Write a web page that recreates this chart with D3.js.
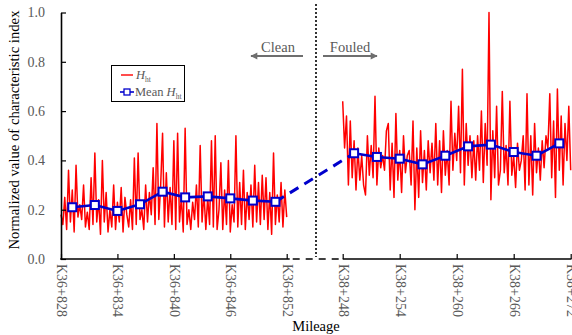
<!DOCTYPE html>
<html>
<head>
<meta charset="utf-8">
<script src="https://cdn.jsdelivr.net/npm/d3@7"></script>
<style>
  html, body { margin: 0; padding: 0; background: #fff; }
  svg { display: block; }
</style>
</head>
<body>
<svg id="chart" width="572" height="335"></svg>
<script>
// ---------- data ----------
const leftTickValues = [828, 834, 840, 846, 852];
const leftTickLabels = ["K36+828", "K36+834", "K36+840", "K36+846", "K36+852"];
const rightTickValues = [248, 254, 260, 266, 272];
const rightTickLabels = ["K38+248", "K38+254", "K38+260", "K38+266", "K38+272"];
const yTickValues = [0, 0.2, 0.4, 0.6, 0.8, 1.0];

// H_ht, clean section (K36+828 .. K36+852, step 0.2 m)
const leftStart = 828, step = 0.2;
const hLeft = [
  0.18, 0.14, 0.25, 0.12, 0.36, 0.15, 0.28, 0.11, 0.38, 0.17, 0.22, 0.16,
  0.30, 0.13, 0.19, 0.12, 0.33, 0.14, 0.43, 0.15, 0.24, 0.10, 0.40, 0.15,
  0.27, 0.11, 0.20, 0.13, 0.30, 0.12, 0.23, 0.15, 0.29, 0.11, 0.25, 0.18,
  0.13, 0.24, 0.12, 0.41, 0.14, 0.43, 0.16, 0.20, 0.12, 0.30, 0.15, 0.27,
  0.18, 0.37, 0.14, 0.55, 0.16, 0.30, 0.51, 0.13, 0.35, 0.15, 0.29, 0.14,
  0.48, 0.12, 0.51, 0.15, 0.25, 0.11, 0.53, 0.14, 0.20, 0.12, 0.23, 0.16,
  0.30, 0.13, 0.46, 0.15, 0.27, 0.12, 0.25, 0.14, 0.48, 0.13, 0.50, 0.12,
  0.20, 0.39, 0.12, 0.28, 0.14, 0.40, 0.11, 0.22, 0.15, 0.50, 0.13, 0.31,
  0.14, 0.36, 0.12, 0.27, 0.16, 0.30, 0.13, 0.38, 0.15, 0.31, 0.14, 0.34,
  0.16, 0.33, 0.12, 0.27, 0.10, 0.43, 0.14, 0.26, 0.15, 0.31, 0.13, 0.28, 0.17
];
// H_ht, fouled section (K38+248 .. K38+272, step 0.2 m)
const rightStart = 248;
const hRight = [
  0.64, 0.45, 0.58, 0.30, 0.56, 0.33, 0.48, 0.28, 0.45, 0.32, 0.42, 0.30,
  0.26, 0.50, 0.34, 0.46, 0.33, 0.66, 0.30, 0.45, 0.37, 0.42, 0.36, 0.52,
  0.55, 0.28, 0.47, 0.25, 0.59, 0.32, 0.44, 0.27, 0.50, 0.35, 0.42, 0.44,
  0.30, 0.56, 0.20, 0.45, 0.25, 0.52, 0.31, 0.44, 0.28, 0.48, 0.35, 0.47,
  0.32, 0.55, 0.30, 0.48, 0.27, 0.52, 0.34, 0.44, 0.30, 0.64, 0.36, 0.51,
  0.40, 0.62, 0.35, 0.77, 0.30, 0.55, 0.38, 0.50, 0.33, 0.48, 0.32, 0.50,
  0.36, 0.60, 0.31, 0.55, 0.38, 1.00, 0.24, 0.52, 0.33, 0.62, 0.30, 0.36,
  0.68, 0.35, 0.46, 0.30, 0.64, 0.34, 0.42, 0.29, 0.47, 0.36, 0.40, 0.50,
  0.28, 0.67, 0.30, 0.50, 0.26, 0.55, 0.35, 0.45, 0.32, 0.48, 0.37, 0.50,
  0.45, 0.67, 0.33, 0.56, 0.25, 0.69, 0.36, 0.58, 0.30, 0.55, 0.40, 0.62, 0.36
];

// Mean H_ht (2.4 m windows)
const meanLeftX = [829.2, 831.6, 834.0, 836.4, 838.8, 841.2, 843.6, 846.0, 848.4, 850.8];
const meanLeft  = [0.210, 0.219, 0.195, 0.222, 0.273, 0.250, 0.254, 0.246, 0.237, 0.232];
const meanRightX = [249.2, 251.6, 254.0, 256.4, 258.8, 261.2, 263.6, 266.0, 268.4, 270.8];
const meanRight  = [0.429, 0.414, 0.407, 0.384, 0.419, 0.457, 0.464, 0.434, 0.419, 0.469];

// ---------- drawing ----------
const svg = d3.select("#chart");
const serif = "'Liberation Serif', 'Times New Roman', serif";
const gray = "#595959";
const red = "#ff0000";
const blue = "#0000cc";

const axisY = 259;
const y = d3.scaleLinear().domain([0, 1]).range([axisY, 12.5]);
const xL = d3.scaleLinear().domain([828, 852]).range([61, 286.7]);
const xR = d3.scaleLinear().domain([248, 272]).range([342.7, 570.7]);

// red raw series
const lineL = d3.line().x((d, i) => xL(leftStart + i * step)).y(d => y(d));
const lineR = d3.line().x((d, i) => xR(rightStart + i * step)).y(d => y(d));
svg.append("path").attr("d", lineL(hLeft)).attr("fill", "none")
  .attr("stroke", red).attr("stroke-width", 1.5).attr("stroke-linejoin", "round");
svg.append("path").attr("d", lineR(hRight)).attr("fill", "none")
  .attr("stroke", red).attr("stroke-width", 1.5).attr("stroke-linejoin", "round");

// mean lines
const mL = meanLeftX.map((d, i) => [xL(d), y(meanLeft[i])]);
const mR = meanRightX.map((d, i) => [xR(d), y(meanRight[i])]);
const ml = d3.line();
svg.append("path").attr("d", ml(mL)).attr("fill", "none").attr("stroke", blue).attr("stroke-width", 2.6);
svg.append("path").attr("d", ml(mR)).attr("fill", "none").attr("stroke", blue).attr("stroke-width", 2.6);
// dashed connector
svg.append("path").attr("d", ml([mL[mL.length - 1], mR[0]])).attr("fill", "none")
  .attr("stroke", blue).attr("stroke-width", 3).attr("stroke-dasharray", "10,7");

// markers
const ms = 8;
svg.append("g").selectAll("rect").data(mL.concat(mR)).join("rect")
  .attr("x", d => d[0] - ms / 2).attr("y", d => d[1] - ms / 2)
  .attr("width", ms).attr("height", ms)
  .attr("fill", "#fff").attr("stroke", blue).attr("stroke-width", 2);

// vertical dotted divider
svg.append("line").attr("x1", 316).attr("x2", 316).attr("y1", 4).attr("y2", 257)
  .attr("stroke", "#000").attr("stroke-width", 1.6).attr("stroke-dasharray", "2,2");

// y axis
const yAxis = d3.axisLeft(y).tickValues(yTickValues).tickSize(-5).tickSizeOuter(0)
  .tickPadding(16).tickFormat(d3.format(".1f"));
const gy = svg.append("g").attr("transform", "translate(61,0)").call(yAxis);
gy.select(".domain").attr("stroke", "#000").attr("stroke-width", 1.6);
gy.selectAll(".tick line").attr("stroke", "#000").attr("stroke-width", 1.2);
gy.selectAll(".tick text").attr("fill", gray).style("font-family", serif).style("font-size", "14px");

// x axes (broken)
function xAxisPart(scale, vals, labels) {
  const ax = d3.axisBottom(scale).tickValues(vals).tickSize(-5).tickSizeOuter(0)
    .tickFormat((d, i) => labels[i]);
  const g = svg.append("g").attr("transform", `translate(0,${axisY})`).call(ax);
  g.select(".domain").remove();
  g.selectAll(".tick line").attr("stroke", "#000").attr("stroke-width", 1.2);
  g.selectAll(".tick text")
    .attr("transform", "rotate(90)")
    .attr("x", 5).attr("y", 0).attr("dy", "0.33em")
    .style("text-anchor", "start")
    .attr("fill", gray).style("font-family", serif).style("font-size", "14px");
  return g;
}
xAxisPart(xL, leftTickValues, leftTickLabels);
xAxisPart(xR, rightTickValues, rightTickLabels);
svg.append("line").attr("x1", 60.2).attr("x2", xL(852) + 3).attr("y1", axisY).attr("y2", axisY)
  .attr("stroke", "#000").attr("stroke-width", 1.6);
svg.append("line").attr("x1", xR(248)).attr("x2", xR(272) + 0.8).attr("y1", axisY).attr("y2", axisY)
  .attr("stroke", "#000").attr("stroke-width", 1.6);
svg.append("line").attr("x1", xL(852) + 6).attr("x2", xR(248) - 2).attr("y1", axisY).attr("y2", axisY)
  .attr("stroke", "#000").attr("stroke-width", 1.6).attr("stroke-dasharray", "7,6");

// axis titles
svg.append("text").attr("x", 316).attr("y", 331).attr("text-anchor", "middle")
  .style("font-family", serif).style("font-size", "14.5px").attr("fill", "#000").text("Mileage");
svg.append("text").attr("transform", "translate(19,130) rotate(-90)").attr("text-anchor", "middle")
  .style("font-family", serif).style("font-size", "14.7px").attr("fill", "#000")
  .text("Normalized value of characteristic index");

// Clean / Fouled annotations
const defs = svg.append("defs");
defs.append("marker").attr("id", "ah").attr("viewBox", "0 0 10 10").attr("refX", 9).attr("refY", 5)
  .attr("markerWidth", 4).attr("markerHeight", 3.2).attr("orient", "auto-start-reverse")
  .append("path").attr("d", "M0,0 L10,5 L0,10 Z").attr("fill", "#6e6e6e");
svg.append("line").attr("x1", 303).attr("x2", 251).attr("y1", 56).attr("y2", 56)
  .attr("stroke", "#6e6e6e").attr("stroke-width", 2.2).attr("marker-end", "url(#ah)");
svg.append("line").attr("x1", 323).attr("x2", 377).attr("y1", 56).attr("y2", 56)
  .attr("stroke", "#6e6e6e").attr("stroke-width", 2.2).attr("marker-end", "url(#ah)");
svg.append("text").attr("x", 278).attr("y", 52).attr("text-anchor", "middle")
  .style("font-family", serif).style("font-size", "14.5px").attr("fill", gray).text("Clean");
svg.append("text").attr("x", 350).attr("y", 52).attr("text-anchor", "middle")
  .style("font-family", serif).style("font-size", "14.5px").attr("fill", gray).text("Fouled");

// legend
const lg = svg.append("g");
lg.append("rect").attr("x", 111.5).attr("y", 65.5).attr("width", 73).attr("height", 36)
  .attr("fill", "#fff").attr("stroke", "#000").attr("stroke-width", 1);
lg.append("line").attr("x1", 121).attr("x2", 133).attr("y1", 75).attr("y2", 75)
  .attr("stroke", red).attr("stroke-width", 1.4);
lg.append("line").attr("x1", 120).attr("x2", 134).attr("y1", 92).attr("y2", 92)
  .attr("stroke", blue).attr("stroke-width", 1.6);
lg.append("rect").attr("x", 124).attr("y", 89).attr("width", 6).attr("height", 6)
  .attr("fill", "#fff").attr("stroke", blue).attr("stroke-width", 1.3);
const t1 = lg.append("text").attr("x", 136).attr("y", 79)
  .style("font-family", serif).style("font-size", "12.5px").attr("fill", gray);
t1.append("tspan").style("font-style", "italic").text("H");
t1.append("tspan").attr("dy", 2.5).style("font-size", "7.5px").text("ht");
const t2 = lg.append("text").attr("x", 135).attr("y", 96)
  .style("font-family", serif).style("font-size", "12.5px").attr("fill", gray);
t2.append("tspan").text("Mean ");
t2.append("tspan").style("font-style", "italic").text("H");
t2.append("tspan").attr("dy", 2.5).style("font-size", "7.5px").text("ht");
</script>
</body>
</html>
